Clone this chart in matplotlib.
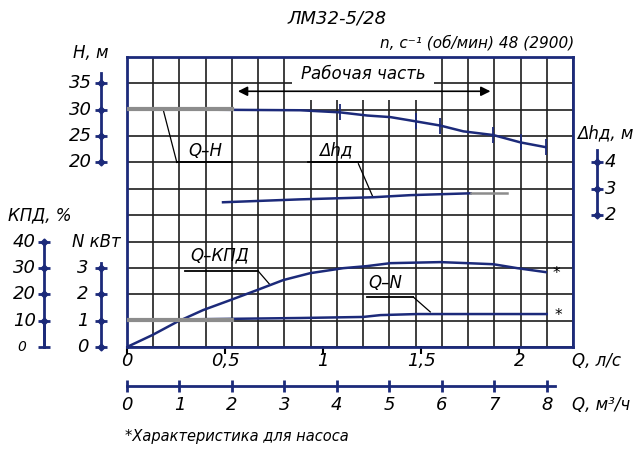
import matplotlib
matplotlib.use("Agg")
import matplotlib.pyplot as plt
from matplotlib.patches import Rectangle
import numpy as np

plt.rcParams['font.family'] = ['Liberation Sans Narrow', 'DejaVu Sans']
plt.rcParams['font.style'] = 'italic'

NAVY = '#1c2a7a'
GRIDC = '#1e1e1e'
GREY = '#8c8c8c'

# подача, м3/ч  -> напор, м
q_h = [0, 3.3, 4.06, 4.58, 5.02, 5.5, 5.97, 6.41, 6.98, 7.5, 7.98]
h_m = [30.1, 29.9, 29.5, 28.9, 28.6, 27.8, 27.0, 25.9, 25.2, 23.8, 22.9]

# допустимый кавитационный запас, м
q_dh = [1.83, 3.3, 4.69, 5.4, 6.55, 7.25]
dh_m = [2.49, 2.6, 2.68, 2.76, 2.83, 2.83]

# КПД, %
q_eff = [0, 0.48, 0.95, 1.45, 1.97, 2.48, 2.98, 3.49, 4.12, 4.58, 5.02,
         5.97, 6.49, 6.98, 7.44, 7.98]
eff = [0, 4.5, 9.5, 14, 17.8, 21.6, 25.4, 28, 29.9, 30.7, 31.8,
       32.2, 31.8, 31.4, 29.9, 28.4]

# мощность, кВт
q_n = [0, 3.3, 4.5, 4.83, 5.53, 8.0]
n_kw = [1.02, 1.1, 1.14, 1.21, 1.25, 1.25]

ls_ticks = [0, 0.5, 1, 1.5, 2]
ls_labels = ['0', '0,5', '1', '1,5', '2']
m3h_ticks = list(range(9))
h_ticks = [20, 25, 30, 35]
dh_ticks = [2, 3, 4]
eff_ticks = [0, 10, 20, 30, 40]
n_ticks = [0, 1, 2, 3]

K_LS = 3.74  # положение отметок л/с на сетке (как на чертеже)

fig = plt.figure(figsize=(6.44, 4.5), dpi=100)
ax = fig.add_axes([127 / 644, 1 - 347 / 450, 446 / 644, 290 / 450])
ax.set_xlim(0, 8.5)
ax.set_ylim(0, 11)
ax.set_xticks(np.arange(0, 8.51, 0.5))
ax.set_yticks(range(12))
ax.tick_params(length=0, labelbottom=False, labelleft=False)
ax.set_axisbelow(True)
ax.grid(True, color=GRIDC, lw=1.2)
for s in ax.spines.values():
    s.set_color(NAVY)
    s.set_linewidth(2)


def overlay(ymin, ymax):
    a = ax.twinx()
    a.set_ylim(ymin, ymax)
    a.axis('off')
    return a


axH = overlay(-15, 40)
axD = overlay(-3, 8)
axE = overlay(0, 110)
axN = overlay(0, 11)

# кривые
axH.plot(q_h, h_m, color=NAVY, lw=1.8, marker='|', ms=11, mew=1.3,
         markevery=[2, 5, 6, 8, 9, 10])
axH.plot([q_h[0], 2.0], [h_m[0], h_m[0]], color=GREY, lw=3)
axD.plot(q_dh[:-1], dh_m[:-1], color=NAVY, lw=1.8)
axD.plot(q_dh[-2:], dh_m[-2:], color=GREY, lw=1.8)
axE.plot(q_eff, eff, color=NAVY, lw=1.8)
axN.plot(q_n, n_kw, color=NAVY, lw=1.8)
axN.plot([q_n[0], 2.0], [n_kw[0], n_kw[0]], color=GREY, lw=3)

# рабочая часть
ax.add_patch(Rectangle((3.15, 9.36), 2.7, 1.64, fc='white', ec='none', zorder=1))
ax.annotate('', xy=(2.06, 9.7), xytext=(6.98, 9.7), zorder=3,
            arrowprops=dict(arrowstyle='<|-|>', color='black', lw=1.2,
                            mutation_scale=14))
ax.text(4.5, 10.35, 'Рабочая часть', ha='center', va='center', size=12, zorder=3)

# подписи кривых
lab = dict(color='black', lw=1.3, zorder=3)
ax.text(1.49, 7.45, 'Q–H', ha='center', va='center', size=12)
ax.plot([0.95, 2.0], [7, 7], **lab)
ax.plot([0.95, 0.69], [7, 9.0], color='black', lw=0.9, zorder=3)
ax.text(3.97, 7.45, 'Δhд', ha='center', va='center', size=12)
ax.plot([3.45, 4.48], [7, 7], **lab)
ax.plot([4.41, 4.68], [6.95, 5.72], color='black', lw=0.9, zorder=3)
ax.text(1.77, 3.48, 'Q–КПД', ha='center', va='center', size=12)
ax.plot([1.11, 2.5], [2.88, 2.88], **lab)
ax.plot([2.5, 2.73], [2.88, 2.35], color='black', lw=0.9, zorder=3)
ax.text(4.92, 2.42, 'Q–N', ha='center', va='center', size=12)
ax.plot([4.58, 5.46], [1.89, 1.89], **lab)
ax.plot([5.46, 5.78], [1.89, 1.33], color='black', lw=0.9, zorder=3)
ax.text(8.19, 2.8, '*', ha='center', va='center', size=11, clip_on=False)
ax.text(8.23, 1.2, '*', ha='center', va='center', size=11, clip_on=False)


def scale(a, x, lo, hi, ticks, labels, lx, ha, size=13):
    a.plot([x, x], [lo, hi], color=NAVY, lw=2, clip_on=False)
    a.plot([x] * len(ticks), ticks, ls='none', marker='_', ms=9, mew=2,
           color=NAVY, clip_on=False)
    a.plot([x] * len(ticks), ticks, ls='none', marker='D', ms=3.5,
           color=NAVY, clip_on=False)
    for t, s in zip(ticks, labels):
        a.text(lx, t, s, ha=ha, va='center', size=size, clip_on=False)


scale(axH, -0.5, 20, 36.9, h_ticks, [str(t) for t in h_ticks], -0.67, 'right')
scale(axD, 8.95, 2.0, 4.46, dh_ticks, [str(t) for t in dh_ticks], 9.1, 'left')
scale(axE, -1.58, 0, 40, eff_ticks[1:], [str(t) for t in eff_ticks[1:]], -1.74, 'right')
axE.plot([-1.58, -1.58], [0, 10], color=NAVY, lw=2, clip_on=False)
axE.plot([-1.58], [0], marker='_', ms=8, mew=2, color=NAVY, clip_on=False)
axE.text(-1.92, 0, '0', ha='right', va='center', size=10, clip_on=False)
scale(axN, -0.5, 0, 3.2, n_ticks, [str(t) for t in n_ticks], -0.74, 'right')

ax.text(-0.7, 11.17, 'H, м', ha='center', va='center', size=12, clip_on=False)
ax.text(9.12, 8.1, 'Δhд, м', ha='center', va='center', size=12, clip_on=False)
ax.text(-1.66, 5.0, 'КПД, %', ha='center', va='center', size=12, clip_on=False)
ax.text(-0.59, 3.98, 'N кВт', ha='center', va='center', size=12, clip_on=False)

# ось л/с
for t, s in zip(ls_ticks, ls_labels):
    ax.plot([t * K_LS], [-0.12], marker='|', ms=6, mew=1.5, color='black', clip_on=False)
    ax.text(t * K_LS, -0.55, s, ha='center', va='center', size=13, clip_on=False)
ax.text(8.49, -0.55, 'Q, л/с', ha='left', va='center', size=12, clip_on=False)

# ось м3/ч
ax.plot([0, 8.15], [-1.48, -1.48], color=NAVY, lw=2, clip_on=False)
ax.plot(m3h_ticks, [-1.48] * len(m3h_ticks), ls='none', marker='|', ms=9, mew=2,
        color=NAVY, clip_on=False)
for t in m3h_ticks:
    ax.text(t, -2.2, str(t), ha='center', va='center', size=13, clip_on=False)
ax.text(8.49, -2.2, 'Q, м³/ч', ha='left', va='center', size=12, clip_on=False)

ax.text(4.0, 12.46, 'ЛМ32-5/28', ha='center', va='center', size=13, clip_on=False)
ax.text(6.68, 11.55, 'n, c⁻¹ (об/мин) 48 (2900)', ha='center', va='center',
        size=11, clip_on=False)
ax.text(-0.04, -3.41, '*Характеристика для насоса', ha='left', va='center',
        size=10.5, clip_on=False)

fig.savefig('out.png', dpi=100)
